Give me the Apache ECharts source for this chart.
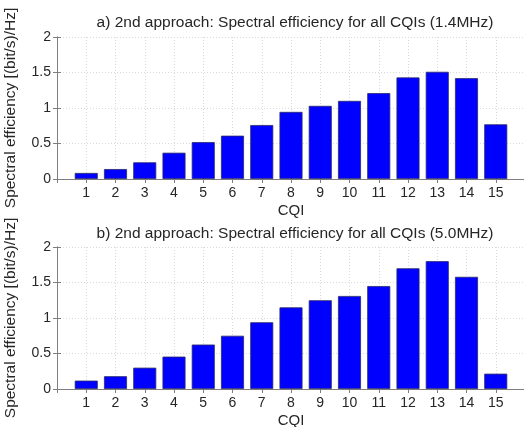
<!DOCTYPE html>
<html>
<head>
<meta charset="utf-8">
<script src="https://cdn.jsdelivr.net/npm/echarts@6/dist/echarts.min.js"></script>
<style>
  html, body { margin: 0; padding: 0; background: #fff; }
  #chart { width: 524px; height: 427px; }
</style>
</head>
<body>
<div id="chart"></div>
<script>
// 数据
const cqi = [1, 2, 3, 4, 5, 6, 7, 8, 9, 10, 11, 12, 13, 14, 15];
const eff14 = [0.085, 0.14, 0.235, 0.37, 0.52, 0.61, 0.76, 0.945, 1.03, 1.10, 1.21, 1.43, 1.51, 1.42, 0.77];
const eff50 = [0.118, 0.18, 0.30, 0.456, 0.626, 0.75, 0.94, 1.15, 1.25, 1.31, 1.45, 1.70, 1.80, 1.58, 0.216];
const titles = [
    'a) 2nd approach: Spectral efficiency for all CQIs (1.4MHz)',
    'b) 2nd approach: Spectral efficiency for all CQIs (5.0MHz)'
];
const xName = 'CQI';
const yName = 'Spectral efficiency [(bit/s)/Hz]';
const yTicks = ['0', '0.5', '1', '1.5', '2'];

const font = 'Liberation Sans, Arial, sans-serif';
const textColor = '#262626';
const axisColor = '#7f7f7f';

const chart = echarts.init(document.getElementById('chart'));

// 两个子图的绘图区
const grids = [
    { left: 57, top: 37, width: 468, height: 142, outerBoundsMode: 'none', containLabel: false },
    { left: 57, top: 247, width: 468, height: 142, outerBoundsMode: 'none', containLabel: false }
];

function bottomAxis(i) {
    return {
        type: 'value', gridIndex: i, position: 'bottom',
        min: 0, max: 16, interval: 1,
        name: xName, nameLocation: 'middle', nameGap: 24,
        nameTextStyle: { color: textColor, fontSize: 15, fontFamily: font },
        axisLine: { lineStyle: { color: axisColor, width: 1 } },
        axisTick: { inside: true, length: 4, lineStyle: { color: axisColor } },
        axisLabel: {
            color: textColor, fontSize: 14, fontFamily: font, margin: 7,
            formatter: v => (cqi.indexOf(v) >= 0 ? String(v) : '')
        },
        splitLine: { show: true, lineStyle: { color: '#d9d9d9', type: [1, 2] } }
    };
}
function topAxis(i) {
    return {
        type: 'value', gridIndex: i, position: 'top',
        min: 0, max: 16, interval: 1,
        axisLine: { lineStyle: { color: axisColor, width: 1 } },
        axisTick: { inside: true, length: 4, lineStyle: { color: axisColor } },
        axisLabel: { show: false },
        splitLine: { show: false }
    };
}
function leftAxis(i) {
    return {
        type: 'value', gridIndex: i, position: 'left',
        min: 0, max: 2, interval: 0.5,
        name: yName, nameLocation: 'middle', nameGap: 38,
        nameTextStyle: { color: textColor, fontSize: 15.5, fontFamily: font },
        axisLine: { show: true, lineStyle: { color: axisColor, width: 1 } },
        axisTick: { show: true, inside: true, length: 4, lineStyle: { color: axisColor } },
        axisLabel: {
            color: textColor, fontSize: 14, fontFamily: font, margin: 6,
            formatter: v => yTicks[Math.round(v / 0.5)]
        },
        splitLine: { show: true, lineStyle: { color: '#d9d9d9', type: [1, 2] } }
    };
}
function rightAxis(i) {
    return {
        type: 'value', gridIndex: i, position: 'right',
        min: 0, max: 2, interval: 0.5,
        axisLine: { show: true, lineStyle: { color: axisColor, width: 1 } },
        axisTick: { show: true, inside: true, length: 4, lineStyle: { color: axisColor } },
        axisLabel: { show: false },
        splitLine: { show: false }
    };
}

function barSeries(i, values) {
    return {
        type: 'bar',
        xAxisIndex: i * 2,
        yAxisIndex: i * 2,
        data: cqi.map((c, k) => [c, values[k]]),
        barWidth: 23,
        itemStyle: { color: '#0000ff', borderColor: '#2a2a6a', borderWidth: 0.8 },
        silent: true
    };
}

const option = {
    animation: false,
    backgroundColor: '#ffffff',
    title: [
        { text: titles[0], left: 290, top: 10, textAlign: 'center',
          textStyle: { color: textColor, fontSize: 15.5, fontWeight: 'normal', fontFamily: font } },
        { text: titles[1], left: 290, top: 221, textAlign: 'center',
          textStyle: { color: textColor, fontSize: 15.5, fontWeight: 'normal', fontFamily: font } }
    ],
    grid: grids,
    xAxis: [bottomAxis(0), topAxis(0), bottomAxis(1), topAxis(1)],
    yAxis: [leftAxis(0), rightAxis(0), leftAxis(1), rightAxis(1)],
    series: [barSeries(0, eff14), barSeries(1, eff50)]
};
chart.setOption(option);
</script>
</body>
</html>
